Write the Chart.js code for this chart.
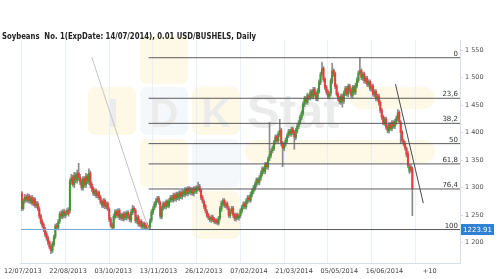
<!DOCTYPE html>
<html><head><meta charset="utf-8">
<script src="https://cdn.jsdelivr.net/npm/chart.js@4.4.1/dist/chart.umd.min.js"></script>
<style>html,body{margin:0;padding:0;background:#fff;}canvas{display:block;}</style>
</head><body>
<canvas id="c" width="500" height="279"></canvas>
<script>
const titleText = 'Soybeans  No. 1(ExpDate: 14/07/2014), 0.01 USD/BUSHELS, Daily';
const dateLabels = ['12/07/2013','22/08/2013','03/10/2013','13/11/2013','26/12/2013','07/02/2014','21/03/2014','05/05/2014','16/06/2014','+10'];
const gridBars = [0,30,60,90,120,150,180,210,240,270];
const yTicks = [1200,1250,1300,1350,1400,1450,1500,1550];

const opens = [
1290,1262,1276,1283,1277,1285,1275,1282,1271,1279,
1267,1271,1261,1249,1239,1233,1225,1216,1209,1201,
1193,1185,1197,1211,1231,1227,1239,1253,1247,1257,
1249,1255,1259,1258,1311,1319,1305,1323,1313,1327,
1319,1311,1299,1317,1305,1321,1311,1327,1306,1299,
1289,1295,1285,1291,1283,1275,1267,1277,1265,1271,
1261,1243,1233,1227,1247,1257,1249,1259,1245,1251,
1243,1253,1245,1255,1249,1241,1255,1263,1259,1239,
1247,1233,1239,1229,1235,1227,1233,1226,1229,1241,
1255,1263,1269,1277,1281,1273,1247,1263,1271,1265,
1275,1267,1277,1283,1277,1287,1279,1289,1281,1291,
1283,1293,1287,1297,1289,1299,1291,1297,1289,1299,
1293,1299,1303,1295,1283,1275,1267,1257,1251,1245,
1241,1247,1243,1237,1241,1235,1245,1261,1271,1277,
1267,1271,1263,1249,1257,1263,1251,1243,1251,1245,
1249,1257,1265,1271,1265,1275,1283,1277,1287,1293,
1299,1305,1315,1309,1317,1325,1335,1329,1343,1337,
1353,1359,1367,1371,1383,1393,1385,1397,1405,1381,
1371,1379,1385,1395,1403,1397,1407,1401,1391,1403,
1411,1419,1427,1435,1451,1463,1455,1467,1463,1475,
1465,1479,1471,1461,1475,1491,1507,1517,1497,1483,
1475,1465,1471,1493,1513,1507,1485,1471,1463,1455,
1467,1457,1471,1481,1469,1485,1477,1467,1483,1473,
1485,1495,1509,1513,1499,1507,1493,1499,1487,1493,
1479,1485,1469,1475,1461,1467,1455,1441,1429,1417,
1425,1411,1403,1415,1407,1419,1411,1419,1425,1437,
1419,1401,1385,1381,1371,1362,1330,1338,1334];

const highs = [
1293,1280,1288,1287,1289,1288,1285,1286,1283,1282,
1275,1274,1265,1252,1243,1236,1228,1220,1212,1204,
1196,1202,1214,1234,1235,1242,1256,1258,1260,1261,
1258,1262,1264,1316,1324,1323,1328,1327,1332,1344,
1324,1316,1320,1320,1326,1324,1334,1330,1310,1302,
1298,1298,1294,1294,1286,1278,1280,1280,1274,1274,
1264,1246,1236,1252,1260,1260,1262,1262,1254,1254,
1256,1256,1258,1258,1252,1260,1268,1266,1262,1250,
1250,1242,1242,1238,1238,1236,1236,1231,1244,1260,
1266,1274,1280,1284,1284,1276,1266,1274,1274,1278,
1278,1280,1286,1286,1290,1290,1292,1292,1294,1294,
1296,1296,1300,1300,1302,1302,1300,1300,1302,1302,
1304,1310,1306,1298,1286,1278,1270,1260,1254,1248,
1250,1250,1246,1244,1244,1248,1266,1276,1280,1280,
1274,1274,1266,1260,1266,1266,1254,1254,1254,1252,
1262,1268,1274,1274,1280,1286,1286,1292,1298,1304,
1310,1318,1318,1322,1330,1338,1338,1346,1346,1356,
1418,1370,1376,1386,1396,1396,1402,1424,1408,1384,
1382,1390,1398,1406,1406,1410,1410,1404,1408,1416,
1422,1432,1440,1456,1466,1466,1472,1470,1478,1478,
1482,1482,1474,1480,1496,1510,1528,1520,1500,1486,
1478,1474,1498,1526,1516,1510,1488,1474,1466,1470,
1470,1476,1484,1484,1488,1488,1480,1486,1486,1490,
1500,1512,1536,1516,1510,1510,1502,1502,1496,1496,
1488,1488,1478,1478,1470,1470,1458,1444,1432,1428,
1428,1414,1418,1418,1422,1422,1424,1430,1442,1440,
1422,1404,1388,1384,1374,1366,1342,1342,1338];

const lows = [
1258,1259,1272,1274,1273,1272,1271,1268,1267,1264,
1263,1258,1244,1234,1228,1220,1211,1204,1196,1188,
1180,1182,1193,1207,1224,1223,1235,1244,1243,1246,
1245,1251,1248,1254,1306,1302,1300,1309,1308,1313,
1305,1296,1295,1301,1300,1307,1306,1300,1293,1286,
1285,1282,1281,1278,1270,1264,1263,1262,1261,1258,
1238,1228,1224,1226,1243,1246,1245,1242,1241,1240,
1239,1242,1241,1244,1238,1237,1251,1254,1236,1235,
1230,1229,1226,1226,1225,1225,1225,1224,1225,1237,
1251,1259,1265,1273,1270,1244,1243,1259,1262,1261,
1264,1263,1273,1274,1273,1276,1275,1278,1277,1280,
1279,1284,1283,1286,1285,1288,1287,1286,1285,1290,
1289,1295,1292,1278,1272,1262,1254,1246,1242,1238,
1237,1238,1235,1234,1233,1232,1241,1257,1267,1264,
1263,1260,1246,1245,1253,1246,1240,1239,1242,1241,
1245,1253,1261,1262,1261,1271,1274,1273,1283,1289,
1295,1301,1306,1305,1313,1321,1326,1325,1334,1333,
1349,1355,1363,1367,1379,1382,1381,1393,1376,1338,
1367,1375,1381,1391,1394,1393,1396,1370,1387,1399,
1407,1415,1423,1431,1447,1452,1451,1460,1459,1462,
1461,1466,1458,1457,1471,1487,1503,1492,1478,1470,
1462,1461,1467,1489,1502,1480,1466,1458,1452,1451,
1446,1453,1467,1466,1465,1472,1464,1463,1470,1469,
1481,1491,1505,1496,1495,1490,1489,1484,1483,1476,
1475,1466,1465,1458,1457,1450,1436,1424,1414,1413,
1406,1400,1399,1404,1403,1408,1407,1415,1421,1416,
1380,1382,1376,1368,1356,1336,1326,1328,1249];

const closes = [
1262,1275,1282,1278,1284,1276,1281,1272,1278,1268,
1270,1262,1248,1238,1232,1224,1215,1208,1200,1192,
1186,1198,1210,1230,1228,1238,1252,1248,1256,1250,
1254,1258,1252,1312,1318,1306,1322,1314,1326,1318,
1310,1300,1316,1306,1320,1312,1326,1305,1298,1290,
1294,1286,1290,1282,1274,1268,1276,1266,1270,1262,
1242,1232,1228,1248,1256,1250,1258,1246,1250,1244,
1252,1246,1254,1248,1242,1256,1262,1258,1240,1246,
1234,1238,1230,1234,1228,1232,1227,1228,1240,1256,
1262,1270,1276,1280,1274,1248,1262,1270,1266,1274,
1268,1276,1282,1278,1286,1280,1288,1282,1290,1284,
1292,1288,1296,1290,1298,1292,1296,1290,1298,1294,
1300,1302,1296,1282,1276,1266,1258,1250,1246,1242,
1246,1242,1238,1240,1236,1244,1262,1272,1276,1268,
1270,1264,1250,1256,1262,1250,1244,1250,1246,1248,
1258,1264,1270,1266,1276,1282,1278,1288,1294,1300,
1306,1314,1310,1318,1326,1334,1330,1342,1338,1352,
1360,1366,1372,1382,1392,1386,1398,1404,1380,1372,
1378,1386,1394,1402,1398,1406,1400,1392,1404,1412,
1418,1428,1436,1452,1462,1456,1468,1464,1474,1466,
1478,1470,1462,1476,1492,1506,1516,1496,1482,1474,
1466,1470,1494,1512,1506,1484,1470,1462,1456,1466,
1458,1472,1480,1470,1484,1476,1468,1482,1474,1486,
1496,1508,1512,1500,1506,1494,1498,1488,1492,1480,
1484,1470,1474,1462,1466,1454,1440,1428,1418,1424,
1410,1404,1414,1408,1418,1412,1420,1426,1436,1420,
1400,1386,1380,1372,1360,1340,1338,1332,1298];

const fibRatios = [0, 23.6, 38.2, 50, 61.8, 76.4, 100];
const fibLabels = ['0','23,6','38,2','50','61,8','76,4','100'];
const fibHigh = 1536;
const fibLow = 1223.91;
const fibStartBar = 87;
const trendLine1 = [{x:48, y:1537}, {x:87, y:1224}];
const trendLine2 = [{x:256.4, y:1488}, {x:275.5, y:1272}];
const lastPrice = 1223.91;

const X_MIN = -0.68, X_MAX = 300.7;
const Y_MIN = 1163.1, Y_MAX = 1568.2;

const upColor = '#3f9a32', downColor = '#f23a3a', wickColor = '#8c8c8c';

const wickData = highs.map((h,i)=>({x:i, y:[lows[i], h]}));
const bodyData = opens.map((o,i)=>({x:i, y:[o, closes[i]]}));
const bodyColors = opens.map((o,i)=> closes[i] >= o ? upColor : downColor);

const fibDatasets = fibRatios.map(r => {
  const p = fibHigh - r/100*(fibHigh - fibLow);
  return {type:'line', data:[{x:fibStartBar,y:p},{x:X_MAX,y:p}], borderColor:'#5a5a5a', borderWidth:1,
    pointRadius:0, fill:false, order:0, xAxisID:'x', yAxisID:'y'};
});

function rr(ctx,x,y,w,h,r){ctx.beginPath();ctx.moveTo(x+r,y);ctx.arcTo(x+w,y,x+w,y+h,r);ctx.arcTo(x+w,y+h,x,y+h,r);ctx.arcTo(x,y+h,x,y,r);ctx.arcTo(x,y,x+w,y,r);ctx.closePath();}

const deco = {
  id:'deco',
  beforeDraw(chart){
    const ctx = chart.ctx;
    ctx.save();
    ctx.fillStyle = '#fff'; ctx.fillRect(0,0,chart.width,chart.height);
    const Y = 'rgba(252,242,200,0.45)', L = 'rgba(236,242,248,0.5)';
    const tiles = [[140,36,48,48,Y],[88,87,48,48,Y],[140,87,48,48,L],[192,87,48,48,Y],[140,139,48,48,Y],[192,139,48,48,L],[192,191,48,48,Y]];
    tiles.forEach(t=>{rr(ctx,t[0],t[1],t[2],t[3],7);ctx.fillStyle=t[4];ctx.fill();});
    const pills = [[350,87,85,22],[245,140,190,23]];
    pills.forEach(p=>{rr(ctx,p[0],p[1],p[2],p[3],11);ctx.fillStyle=Y;ctx.fill();});
    ctx.fillStyle = '#ebebeb';
    ctx.font = 'bold 40px "Liberation Sans"';
    ctx.textAlign = 'center'; ctx.textBaseline = 'alphabetic';
    ctx.fillText('I',113,127); ctx.fillText('D',164,127); ctx.fillText('K',216,127);
    ctx.textAlign = 'left';
    ctx.font = 'bold 49px "Liberation Sans"';
    ctx.fillText('Stat',247,128);
    // title
    ctx.fillStyle = '#222';
    ctx.font = 'bold 8px "DejaVu Sans"';
    const w = ctx.measureText(titleText).width;
    ctx.translate(2,38.5);
    ctx.scale(Math.min(1, 254/w), 1);
    ctx.fillText(titleText,0,0);
    ctx.restore();
  },
  afterDatasetsDraw(chart){
    const ctx = chart.ctx, ys = chart.scales.y, ca = chart.chartArea;
    ctx.save();
    ctx.font = '7px "DejaVu Sans"';
    ctx.fillStyle = '#333';
    ctx.textAlign = 'right'; ctx.textBaseline = 'alphabetic';
    fibRatios.forEach((r,k)=>{
      const p = fibHigh - r/100*(fibHigh - fibLow);
      ctx.fillText(fibLabels[k], ca.right-2, ys.getPixelForValue(p)-2);
    });
    const py = ys.getPixelForValue(lastPrice);
    ctx.fillStyle = '#2f80d4';
    ctx.fillRect(ca.right+1, py-5.5, 33, 11);
    ctx.fillStyle = '#fff';
    ctx.textAlign = 'center'; ctx.textBaseline = 'middle';
    ctx.fillText(lastPrice.toFixed(2), ca.right+17.5, py+0.5);
    ctx.restore();
  }
};

new Chart(document.getElementById('c'), {
  type:'bar',
  data:{
    datasets:[
      {type:'bar', data:bodyData, backgroundColor:bodyColors, barThickness:1.4, minBarLength:1, grouped:false, order:1, xAxisID:'x', yAxisID:'y'},
      {type:'bar', data:wickData, backgroundColor:wickColor, barThickness:1, grouped:false, order:2, xAxisID:'x', yAxisID:'y'},
      ...fibDatasets,
      {type:'line', data:[{x:X_MIN,y:lastPrice},{x:X_MAX,y:lastPrice}], borderColor:'#7aa8dc', borderWidth:1, pointRadius:0, fill:false, order:0, xAxisID:'x', yAxisID:'y'},
      {type:'line', data:trendLine1, borderColor:'#c4c4c4', borderWidth:1, pointRadius:0, fill:false, order:0, xAxisID:'x', yAxisID:'y'},
      {type:'line', data:trendLine2, borderColor:'#4a4a4a', borderWidth:1, pointRadius:0, fill:false, order:0, xAxisID:'x', yAxisID:'y'}
    ]
  },
  options:{
    responsive:false, animation:false, events:[],
    layout:{padding:{top:40,left:18,right:0,bottom:0}},
    plugins:{legend:{display:false}, tooltip:{enabled:false}, title:{display:false}},
    scales:{
      x:{type:'linear', position:'bottom', min:X_MIN, max:X_MAX, offset:false,
         grid:{display:true, drawOnChartArea:true, drawTicks:false, offset:false, color:'#e8eff6', lineWidth:1},
         border:{display:false}, ticks:{display:false},
         afterBuildTicks:s=>{s.ticks = gridBars.map(v=>({value:v}));},
         afterFit:s=>{s.height=0;}},
      xl:{type:'linear', position:'bottom', min:-0.044, max:9.67, offset:false,
         grid:{display:false, drawTicks:false, tickLength:0, offset:false},
         border:{display:true, color:'#d3e1ee', width:1},
         ticks:{padding:4, color:'#444', font:{family:'DejaVu Sans', size:6.5}, maxRotation:0, autoSkip:false,
                callback:v=>dateLabels[v]},
         afterBuildTicks:s=>{s.ticks = dateLabels.map((_,k)=>({value:k}));},
         afterFit:s=>{s.height=16;}},
      y:{type:'linear', position:'right', min:Y_MIN, max:Y_MAX, beginAtZero:false,
         grid:{display:true, drawOnChartArea:false, drawTicks:true, tickLength:3, color:'#d3e1ee'},
         border:{display:true, color:'#d3e1ee', width:1},
         ticks:{padding:2, color:'#555', font:{family:'DejaVu Sans', size:6.5},
                callback:v=>String(v).replace(/\B(?=(\d{3})+(?!\d))/g,' ')},
         afterBuildTicks:s=>{s.ticks = yTicks.map(v=>({value:v}));},
         afterFit:s=>{s.width=40;}}
    }
  },
  plugins:[deco]
});
</script>
</body></html>
